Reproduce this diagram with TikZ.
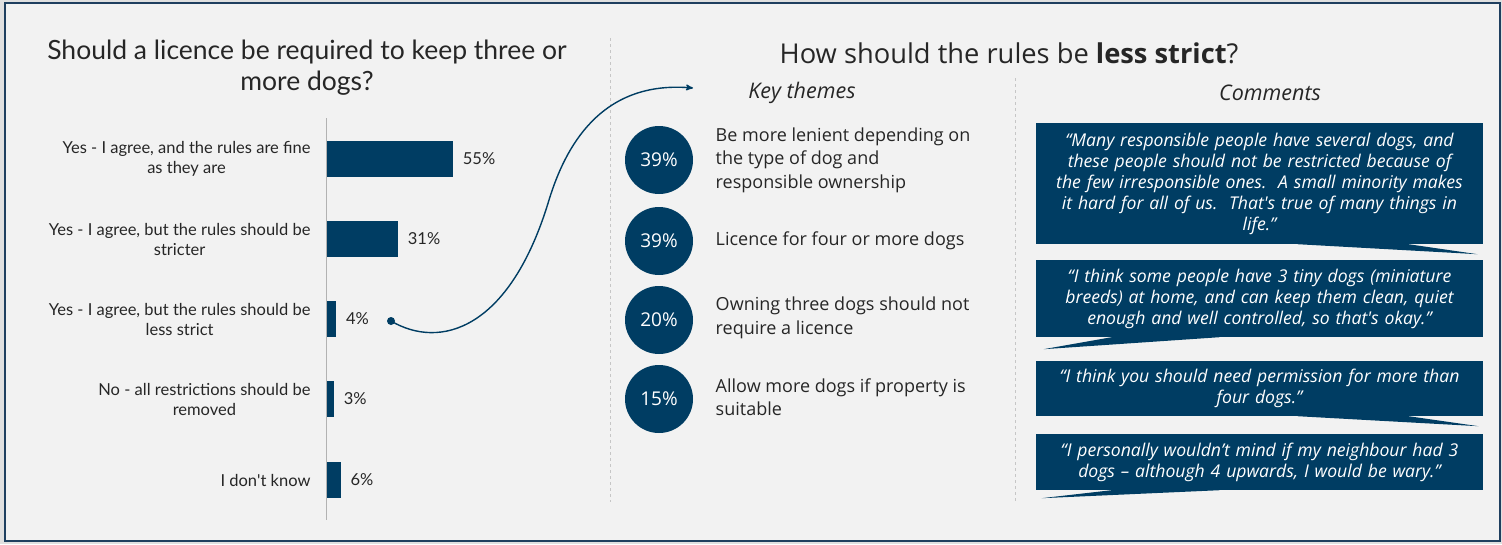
\documentclass[tikz,border=0pt]{standalone}
\usepackage{fontspec}
\setmainfont{Lato}
\newfontfamily\themefont{Open Sans}
\usetikzlibrary{arrows,positioning}

\definecolor{navy}{RGB}{0,61,99}
\definecolor{framec}{RGB}{31,63,95}
\definecolor{panel}{RGB}{242,242,242}
\definecolor{ink}{RGB}{38,38,38}

\begin{document}
\begin{tikzpicture}[x=1pt,y=-1pt,>=stealth',text=ink]

  \tikzstyle{bar}=[fill=navy,inner sep=0pt,minimum height=36pt,anchor=west]
  \tikzstyle{answer}=[anchor=east,align=center,font=\fontsize{16.5}{20}\selectfont]
  \tikzstyle{pct}=[font=\fontsize{16.5}{18}\selectfont]
  \tikzstyle{share}=[circle,fill=navy,minimum size=68pt,inner sep=0pt,text=white,font=\themefont\fontsize{19}{24}\selectfont]
  \tikzstyle{theme}=[align=left,anchor=west,font=\themefont\fontsize{18}{23.5}\selectfont]
  \tikzstyle{quote}=[fill=navy,text=white,minimum width=445pt,text width=440pt,align=center,font=\themefont\fontsize{17.6}{21}\selectfont\itshape]
  \tikzstyle{head}=[font=\themefont\fontsize{21.5}{24}\selectfont\itshape]
  \tikzstyle{divider}=[gray!45,dash pattern=on 3pt off 3pt,line width=0.8pt]

  % background and frame
  \fill[white!88!black] (0,0) rectangle (1502,544);
  \draw[framec,line width=2pt,fill=panel] (5,3) rectangle (1500,541);

  % left panel: bar chart
  \node[align=center,font=\fontsize{26.5}{31}\selectfont] (title) at (307,68)
    {Should a licence be required to keep three or\\more dogs?};
  \draw[gray!60,line width=0.8pt] (326,118) -- (326,520);

  \foreach \n/\val/\y/\txt in {1/55/159/{Yes - I agree, and the rules are fine\\as they are},
      2/31/239/{Yes - I agree, but the rules should be\\stricter},
      3/4/319/{Yes - I agree, but the rules should be\\less strict},
      4/3/399/{No - all restrictions should be\\removed},
      5/6/480/{I don\textquotesingle t know}} {
    \node[bar,minimum width={\val*2.29pt}] (b\n) at (327,\y) {};
    \node[pct,right=6pt of b\n] (p\n) {\val\%};
    \node[answer] (a\n) at (314,\y) {\txt};
  }

  \draw[divider] (610,38) -- (610,502);
  \draw[divider] (1015,78) -- (1015,502);

  % right panel
  \node[font=\themefont\fontsize{27.3}{31}\selectfont] (rtitle) at (1009,53)
    {How should the rules be \textbf{less strict}?};
  \node[head] (keyhead) at (802,93) {Key themes};
  \node[head] (comhead) at (1270,93) {Comments};

  \node[share] (c1) at (659,160) {39\%};
  \node[share] (c2) at (659,241) {39\%};
  \node[share] (c3) at (659,320) {20\%};
  \node[share] (c4) at (659,399) {15\%};

  \node[theme,right=19pt of c1] (t1) {Be more lenient depending on\\the type of dog and\\responsible ownership};
  \node[theme,right=19pt of c2] (t2) {Licence for four or more dogs};
  \node[theme,right=19pt of c3,yshift=2pt] (t3) {Owning three dogs should not\\require a licence};
  \node[theme,right=19pt of c4,yshift=2pt] (t4) {Allow more dogs if property is\\suitable};

  % comments
  \node[quote,minimum height=121pt] (q1) at (1259.5,183.5)
    {“Many responsible people have several dogs, and\\these people should not be restricted because of\\the few irresponsible ones.\ \ A small minority makes\\it hard for all of us.\ \ That\textquotesingle s true of many things in\\life.”};
  \node[quote,minimum height=77pt] (q2) at (1259.5,298.5)
    {“I think some people have 3 tiny dogs (miniature\\breeds) at home, and can keep them clean, quiet\\enough and well controlled, so that\textquotesingle s okay.”};
  \node[quote,minimum height=55pt] (q3) at (1259.5,388.5)
    {“I think you should need permission for more than\\four dogs.”};
  \node[quote,minimum height=56pt] (q4) at (1259.5,462)
    {“I personally wouldn’t mind if my neighbour had 3\\dogs – although 4 upwards, I would be wary.”};

  \fill[navy] ([xshift=38pt]q1.south) -- ([xshift=218pt,yshift=-10pt]q1.south) -- ([xshift=149pt]q1.south) -- cycle;
  \fill[navy] ([xshift=-148pt]q2.south) -- ([xshift=-216pt,yshift=-12pt]q2.south) -- ([xshift=-40pt]q2.south) -- cycle;
  \fill[navy] ([xshift=38pt]q3.south) -- ([xshift=219pt,yshift=-10pt]q3.south) -- ([xshift=149pt]q3.south) -- cycle;
  \fill[navy] ([xshift=-148pt]q4.south) -- ([xshift=-218pt,yshift=-8pt]q4.south) -- ([xshift=-40pt]q4.south) -- cycle;

  % link from the bar to the themes
  \coordinate (src) at (391,321);
  \coordinate (themes) at (693,88);
  \fill[navy] (src) circle (4);
  \draw[->,navy,line width=1.4pt] (src) .. controls (440,350) and (510,330) .. (549,200)
    .. controls (565,148) and (600,80) .. (themes);

\end{tikzpicture}
\end{document}
